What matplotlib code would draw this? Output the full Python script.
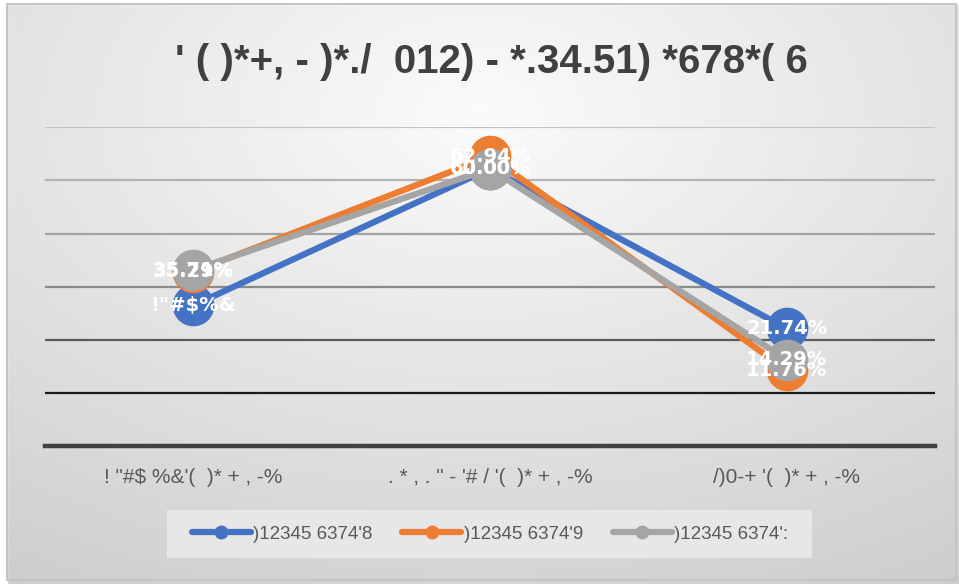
import numpy as np
import matplotlib
matplotlib.use("Agg")
import matplotlib.pyplot as plt
from matplotlib.lines import Line2D
from matplotlib.patches import Rectangle

# ---- data ----
categories = ['! "#$ %&\'(  )* + , -%', '. * , . " - \'# / \'(  )* + , -%', "/)0-+ '(  )* + , -%"]
series_names = [")12345 6374'8", ")12345 6374'9", ")12345 6374':"]
blue_vals = [27.27, 60.00, 21.74]
orange_vals = [35.29, 62.94, 11.76]
gray_vals = [35.71, 60.00, 14.29]
blue_labels = ['!"#$%&', "60.00%", "21.74%"]
orange_labels = ["35.29%", "62.94%", "11.76%"]
gray_labels = ["35.71%", "60.00%", "14.29%"]
title_text = "' ( )*+, - )*./  012) - *.34.51) *678*( 6"

colors = ["#4472C4", "#ED7D31", "#A5A5A5"]
sans = ["Liberation Sans", "DejaVu Sans"]

W, H = 959, 584
fig = plt.figure(figsize=(W / 100, H / 100), dpi=100, facecolor="white")

# background gradient panel
bg = fig.add_axes([0, 0, 1, 1])
bg.set_axis_off()
yy, xx = np.mgrid[0:H, 0:W]
r = np.sqrt(((xx - 480) / W) ** 2 + ((yy - 110) / H) ** 2)
shade = np.clip(0.985 - 0.19 * r, 0, 1)
img = np.dstack([shade, shade, shade])
bg.imshow(img, extent=[0, W, H, 0], aspect="auto")
bg.set_xlim(0, W)
bg.set_ylim(H, 0)
bg.add_patch(Rectangle((0, 0), 7, H, color="white"))
bg.add_patch(Rectangle((0, 0), W, 4, color="white"))
bg.add_patch(Rectangle((7, 4), W - 10, H - 8, fill=False, edgecolor="#c4c4c4", lw=1.5))
# legend panel
bg.add_patch(Rectangle((167, 510), 645, 48, facecolor="#e7e7e7", edgecolor="none"))

# plot area
left, right, top, bottom = 45, 935, 127.3, 446
ax = fig.add_axes([left / W, (H - bottom) / H, (right - left) / W, (bottom - top) / H])
ax.set_facecolor("none")
y0, y1 = -6.4, 69.9
ax.set_ylim(y0, y1)
ax.set_xlim(-0.5, 2.5)
for s in ax.spines.values():
    s.set_visible(False)
ax.set_yticks([])

grid_levels = np.linspace(y0, y1, 7)
grid_colors = ["#1a1a1a", "#5a5a5a", "#8a8a8a", "#a3a3a3", "#b3b3b3", "#c2c2c2"]
for lvl, c in zip(grid_levels[1:], grid_colors):
    ax.axhline(lvl, color=c, lw=1.6, zorder=1)
ax.axhline(y0, color="#404040", lw=3.2, zorder=1, clip_on=False)

x = np.arange(len(categories))
all_vals = [blue_vals, orange_vals, gray_vals]
all_labels = [blue_labels, orange_labels, gray_labels]
for vals, c in zip(all_vals, colors):
    ax.plot(x, vals, color=c, lw=4.5, marker="o", ms=29, mec=c, mfc=c,
            zorder=3, clip_on=False, solid_capstyle="round")
for vals, labs in zip(all_vals, all_labels):
    for xi, v, t in zip(x, vals, labs):
        ax.text(xi, v, t, color="white", fontsize=14, fontweight="bold",
                ha="center", va="center", zorder=5)

ax.set_xticks(x)
ax.set_xticklabels(categories, fontsize=15, color="#595959", family=sans)
ax.tick_params(axis="x", length=0, pad=16)

# title
fig.text(491 / W, 1 - 62 / H, title_text, ha="center", va="center",
         fontsize=29, fontweight="bold", color="#404040", family=sans)

# legend
handles = [Line2D([0], [0], color=c, lw=4.5, marker="o", ms=9, solid_capstyle="round")
           for c in colors]
leg = fig.legend(handles, series_names, loc="center", bbox_to_anchor=(490 / W, 1 - 534 / H),
                 ncol=3, frameon=False, handlelength=3.15, columnspacing=1.6,
                 handletextpad=0.12, prop={"family": sans, "size": 13.5})
for t in leg.get_texts():
    t.set_color("#595959")

fig.savefig("out.png", dpi=100, facecolor="white")
